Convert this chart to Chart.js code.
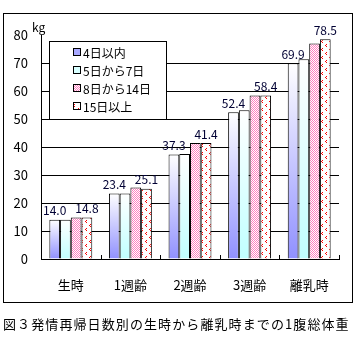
<!DOCTYPE html>
<html>
<head>
<meta charset="utf-8">
<script src="https://cdn.jsdelivr.net/npm/chart.js@4/dist/chart.umd.min.js"></script>
<style>
  body { margin: 0; background: #fff; }
  #wrap { position: relative; width: 355px; height: 345px; }
  #frame { position: absolute; left: 3px; top: 13px; width: 350px; height: 290px; box-sizing: border-box; border: 1px solid #000; }
  #chart { position: absolute; left: 0; top: 0; }
  #caption { position: absolute; left: 3px; top: 314px; font: 13px "Noto Sans CJK JP"; letter-spacing: 1.1px; color: #000; white-space: nowrap; }
</style>
</head>
<body>
<div id="wrap">
  <div id="frame"></div>
  <canvas id="chart" width="355" height="345"></canvas>
  <div id="caption">図３発情再帰日数別の生時から離乳時までの1腹総体重</div>
</div>
<script>
var categories = ['生時', '1週齢', '2週齢', '3週齢', '離乳時'];
var seriesNames = ['4日以内', '5日から7日', '8日から14日', '15日以上'];
var s1 = [14.0, 23.4, 37.3, 52.4, 69.9];
var s2 = [14.0, 23.4, 37.5, 53.1, 71.3];
var s3 = [14.8, 25.5, 41.4, 58.4, 77.0];
var s4 = [14.8, 25.1, 41.4, 58.4, 78.5];
var yTicks = [0, 10, 20, 30, 40, 50, 60, 70, 80];
var labelled = [0, 3]; // series with value labels

var FONT = '"Noto Sans CJK JP", sans-serif';

// patterns
function checkerPattern() {
    var c = document.createElement('canvas');
    c.width = 2; c.height = 2;
    var x = c.getContext('2d');
    x.fillStyle = '#ffffff'; x.fillRect(0, 0, 2, 2);
    x.fillStyle = '#ff80c0';
    x.fillRect(0, 0, 1, 1); x.fillRect(1, 1, 1, 1);
    return x.createPattern(c, 'repeat');
}
function confettiPattern() {
    var c = document.createElement('canvas');
    c.width = 8; c.height = 8;
    var x = c.getContext('2d');
    x.fillStyle = '#ffffff'; x.fillRect(0, 0, 8, 8);
    x.fillStyle = '#ff0000';
    x.fillRect(2, 0, 1, 1); x.fillRect(1, 1, 1, 1); x.fillRect(2, 2, 1, 1);
    x.fillRect(6, 4, 1, 1); x.fillRect(5, 5, 1, 1); x.fillRect(6, 6, 1, 1);
    return x.createPattern(c, 'repeat');
}
var pinkFill = checkerPattern();
var dotFill = confettiPattern();

function gradFill(bottomColor) {
    return function (ctx) {
        var chart = ctx.chart;
        if (!chart.chartArea || ctx.raw === undefined) return bottomColor;
        var y = chart.scales.y;
        var top = y.getPixelForValue(ctx.raw);
        var bottom = y.getPixelForValue(0);
        var g = chart.ctx.createLinearGradient(0, top, 0, bottom);
        g.addColorStop(0, '#ffffff');
        g.addColorStop(1, bottomColor);
        return g;
    };
}

var legendFills = ['#a8a8ff', '#d8ffff', pinkFill, dotFill];

var extras = {
    id: 'extras',
    afterDatasetsDraw: function (chart) {
        var ctx = chart.ctx;
        var xs = chart.scales.x, ys = chart.scales.y;
        ctx.save();
        // inward ticks on category boundaries
        ctx.strokeStyle = '#000';
        ctx.lineWidth = 1;
        var n = categories.length;
        var step = (xs.right - xs.left) / n;
        for (var i = 1; i <= n; i++) {
            var px = Math.round(xs.left + i * step) + 0.5;
            ctx.beginPath();
            ctx.moveTo(px, ys.bottom);
            ctx.lineTo(px, ys.bottom - 4);
            ctx.stroke();
        }
        // value labels
        ctx.font = '12px ' + FONT;
        ctx.fillStyle = '#000033';
        ctx.textAlign = 'center';
        ctx.textBaseline = 'bottom';
        labelled.forEach(function (d) {
            var meta = chart.getDatasetMeta(d);
            meta.data.forEach(function (bar, j) {
                ctx.fillText(chart.data.datasets[d].data[j].toFixed(1), bar.x, bar.y - 3);
            });
        });
        // unit
        ctx.textAlign = 'left';
        ctx.fillStyle = '#000';
        ctx.fillText('kg', ys.right - 9, ys.top - 2);
        // legend box
        var lx = xs.left + 8, ly = ys.getPixelForValue(78.5) + 2;
        var lw = 117, lh = ys.getPixelForValue(50) - ly;
        ctx.fillStyle = '#fff';
        ctx.fillRect(lx, ly, lw, lh);
        ctx.strokeRect(Math.round(lx) + 0.5, Math.round(ly) + 0.5, lw, Math.round(lh));
        ctx.textBaseline = 'middle';
        ctx.font = '12px ' + FONT;
        chart.data.datasets.forEach(function (ds, k) {
            var cy = Math.round(ly + 11 + k * 18);
            ctx.fillStyle = legendFills[k];
            ctx.fillRect(lx + 25, cy - 3, 6, 6);
            ctx.strokeStyle = '#000';
            ctx.strokeRect(lx + 24.5, cy - 3.5, 7, 7);
            ctx.fillStyle = '#000';
            ctx.fillText(ds.label, lx + 34, cy + 1);
        });
        ctx.restore();
    }
};

var ctx = document.getElementById('chart').getContext('2d');
new Chart(ctx, {
    type: 'bar',
    data: {
        labels: categories,
        datasets: [
            { label: seriesNames[0], data: s1, backgroundColor: gradFill('#9090ff') },
            { label: seriesNames[1], data: s2, backgroundColor: gradFill('#c0ffff') },
            { label: seriesNames[2], data: s3, backgroundColor: pinkFill },
            { label: seriesNames[3], data: s4, backgroundColor: dotFill }
        ].map(function (d) {
            d.borderColor = '#000';
            d.borderWidth = 1;
            d.categoryPercentage = 0.72;
            d.barPercentage = 1.0;
            return d;
        })
    },
    options: {
        responsive: false,
        animation: false,
        devicePixelRatio: 1,
        layout: { padding: { left: 0, top: 35, right: 16, bottom: 36 } },
        plugins: { legend: { display: false }, tooltip: { enabled: false } },
        scales: {
            x: {
                grid: { display: false },
                border: { color: '#000', width: 1 },
                ticks: { color: '#000', font: { family: FONT, size: 13 }, padding: 10, maxRotation: 0 },
                afterFit: function (s) { s.height = 50; }
            },
            y: {
                min: 0, max: 80,
                afterBuildTicks: function (s) { s.ticks = yTicks.map(function (v) { return { value: v }; }); },
                grid: {
                    drawTicks: false,
                    color: function (c) { return c.tick && c.tick.value === 80 ? 'rgba(0,0,0,0)' : '#000'; }
                },
                border: { color: '#000', width: 1 },
                ticks: { color: '#000', font: { family: FONT, size: 13 }, padding: 13 },
                afterFit: function (s) { s.width = 41; }
            }
        }
    },
    plugins: [extras]
});
</script>
</body>
</html>
